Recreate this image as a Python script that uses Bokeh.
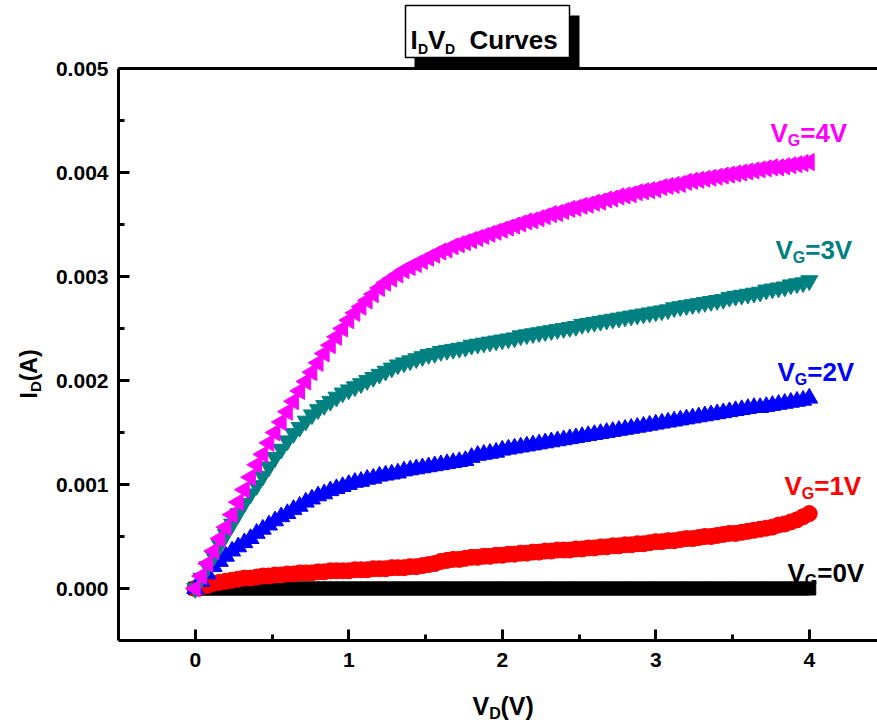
import math
from bokeh.plotting import figure
from bokeh.models import (FixedTicker, PrintfTickFormatter, LinearAxis, Label,
                          BoxAnnotation, Range1d)
from bokeh.embed import file_html
from bokeh.resources import INLINE

# ---------------- data ----------------
VD = [0.00, 0.04, 0.08, 0.12, 0.16, 0.20, 0.24, 0.28, 0.32, 0.36,
      0.40, 0.44, 0.48, 0.52, 0.56, 0.60, 0.64, 0.68, 0.72, 0.76,
      0.80, 0.84, 0.88, 0.92, 0.96, 1.00, 1.04, 1.08, 1.12, 1.16,
      1.20, 1.24, 1.28, 1.32, 1.36, 1.40, 1.44, 1.48, 1.52, 1.56,
      1.60, 1.64, 1.68, 1.72, 1.76, 1.80, 1.84, 1.88, 1.92, 1.96,
      2.00, 2.04, 2.08, 2.12, 2.16, 2.20, 2.24, 2.28, 2.32, 2.36,
      2.40, 2.44, 2.48, 2.52, 2.56, 2.60, 2.64, 2.68, 2.72, 2.76,
      2.80, 2.84, 2.88, 2.92, 2.96, 3.00, 3.04, 3.08, 3.12, 3.16,
      3.20, 3.24, 3.28, 3.32, 3.36, 3.40, 3.44, 3.48, 3.52, 3.56,
      3.60, 3.64, 3.68, 3.72, 3.76, 3.80, 3.84, 3.88, 3.92, 3.96,
      4.00]

# drain currents in mA
ID_VG0_mA = [0.00, 0.00, 0.00, 0.00, 0.00, 0.00, 0.00, 0.00, 0.00, 0.00,
             0.00, 0.00, 0.00, 0.00, 0.00, 0.00, 0.00, 0.00, 0.00, 0.00,
             0.00, 0.00, 0.00, 0.00, 0.00, 0.00, 0.00, 0.00, 0.00, 0.00,
             0.00, 0.00, 0.00, 0.00, 0.00, 0.00, 0.00, 0.00, 0.00, 0.00,
             0.00, 0.00, 0.00, 0.00, 0.00, 0.00, 0.00, 0.00, 0.00, 0.00,
             0.00, 0.00, 0.00, 0.00, 0.00, 0.00, 0.00, 0.00, 0.00, 0.00,
             0.00, 0.00, 0.00, 0.00, 0.00, 0.00, 0.00, 0.00, 0.00, 0.00,
             0.00, 0.00, 0.00, 0.00, 0.00, 0.00, 0.00, 0.00, 0.00, 0.00,
             0.00, 0.00, 0.00, 0.00, 0.00, 0.00, 0.00, 0.00, 0.00, 0.00,
             0.00, 0.00, 0.00, 0.00, 0.00, 0.00, 0.00, 0.00, 0.00, 0.00,
             0.00]

ID_VG1_mA = [0.00, 0.02, 0.03, 0.05, 0.06, 0.07, 0.08, 0.09, 0.10, 0.10,
             0.11, 0.12, 0.12, 0.13, 0.13, 0.14, 0.14, 0.15, 0.15, 0.15,
             0.16, 0.16, 0.17, 0.17, 0.17, 0.17, 0.18, 0.18, 0.18, 0.19,
             0.19, 0.19, 0.20, 0.20, 0.20, 0.21, 0.21, 0.22, 0.23, 0.24,
             0.26, 0.27, 0.28, 0.28, 0.29, 0.30, 0.30, 0.31, 0.31, 0.32,
             0.32, 0.33, 0.33, 0.34, 0.34, 0.35, 0.35, 0.36, 0.36, 0.37,
             0.37, 0.37, 0.38, 0.38, 0.39, 0.39, 0.40, 0.40, 0.41, 0.41,
             0.42, 0.42, 0.43, 0.43, 0.44, 0.45, 0.45, 0.46, 0.46, 0.47,
             0.48, 0.48, 0.49, 0.50, 0.50, 0.51, 0.52, 0.53, 0.53, 0.54,
             0.55, 0.56, 0.57, 0.58, 0.59, 0.61, 0.62, 0.64, 0.66, 0.69,
             0.72]

ID_VG2_mA = [0.00, 0.07, 0.14, 0.21, 0.26, 0.31, 0.36, 0.40, 0.44, 0.48,
             0.53, 0.57, 0.61, 0.65, 0.69, 0.72, 0.76, 0.79, 0.83, 0.86,
             0.89, 0.91, 0.94, 0.96, 0.98, 1.00, 1.02, 1.03, 1.05, 1.06,
             1.08, 1.09, 1.10, 1.11, 1.13, 1.14, 1.15, 1.16, 1.17, 1.18,
             1.19, 1.20, 1.21, 1.22, 1.23, 1.26, 1.28, 1.29, 1.30, 1.31,
             1.33, 1.34, 1.35, 1.36, 1.37, 1.38, 1.39, 1.40, 1.41, 1.42,
             1.43, 1.44, 1.45, 1.46, 1.47, 1.48, 1.49, 1.50, 1.51, 1.52,
             1.53, 1.54, 1.55, 1.56, 1.57, 1.58, 1.59, 1.60, 1.61, 1.62,
             1.63, 1.64, 1.65, 1.66, 1.67, 1.68, 1.69, 1.70, 1.71, 1.72,
             1.73, 1.74, 1.74, 1.75, 1.76, 1.77, 1.78, 1.79, 1.80, 1.81,
             1.83]

ID_VG3_mA = [0.00, 0.10, 0.21, 0.31, 0.42, 0.52, 0.62, 0.72, 0.82, 0.91,
             0.99, 1.08, 1.17, 1.26, 1.34, 1.42, 1.49, 1.55, 1.61, 1.67,
             1.72, 1.76, 1.80, 1.84, 1.88, 1.91, 1.94, 1.97, 2.00, 2.03,
             2.06, 2.09, 2.12, 2.15, 2.17, 2.19, 2.21, 2.23, 2.25, 2.26,
             2.28, 2.29, 2.30, 2.31, 2.32, 2.34, 2.35, 2.36, 2.37, 2.38,
             2.39, 2.40, 2.41, 2.43, 2.44, 2.45, 2.46, 2.47, 2.48, 2.49,
             2.50, 2.51, 2.52, 2.54, 2.55, 2.56, 2.57, 2.58, 2.59, 2.60,
             2.61, 2.62, 2.63, 2.64, 2.65, 2.66, 2.67, 2.68, 2.70, 2.71,
             2.72, 2.73, 2.74, 2.75, 2.76, 2.77, 2.78, 2.80, 2.81, 2.82,
             2.83, 2.84, 2.85, 2.87, 2.88, 2.89, 2.90, 2.92, 2.93, 2.94,
             2.96]

ID_VG4_mA = [0.00, 0.12, 0.24, 0.36, 0.48, 0.59, 0.71, 0.83, 0.95, 1.07,
             1.19, 1.29, 1.40, 1.50, 1.60, 1.70, 1.80, 1.90, 1.99, 2.08,
             2.17, 2.26, 2.34, 2.42, 2.50, 2.58, 2.65, 2.71, 2.77, 2.83,
             2.89, 2.94, 2.98, 3.02, 3.06, 3.09, 3.12, 3.15, 3.18, 3.21,
             3.24, 3.26, 3.29, 3.31, 3.33, 3.35, 3.37, 3.39, 3.41, 3.43,
             3.45, 3.47, 3.49, 3.51, 3.53, 3.54, 3.56, 3.58, 3.60, 3.61,
             3.63, 3.65, 3.66, 3.68, 3.69, 3.71, 3.72, 3.74, 3.75, 3.77,
             3.78, 3.79, 3.81, 3.82, 3.83, 3.84, 3.86, 3.87, 3.88, 3.89,
             3.91, 3.92, 3.93, 3.94, 3.95, 3.96, 3.97, 3.98, 3.99, 4.00,
             4.01, 4.02, 4.03, 4.04, 4.05, 4.05, 4.06, 4.07, 4.08, 4.09,
             4.10]

X_TICKS = [0, 1, 2, 3, 4]
X_MINOR = [0.5, 1.5, 2.5, 3.5]
Y_TICKS = [0.000, 0.001, 0.002, 0.003, 0.004, 0.005]
Y_MINOR = [0.0005, 0.0015, 0.0025, 0.0035, 0.0045]

# ---------------- figure ----------------
# The plot frame covers the whole canvas; the axes are drawn at fixed data
# locations so that titles and the title box can live inside the frame.
W, H = 877, 727
FL, FB = 118, 640               # pixel position of the axes box (left, bottom)
X0, PXV = -0.5, 153.5           # x at the left axis, pixels per volt
Y0, Y1 = -0.0005, 0.005         # y at bottom axis / top line
PXA = 104000.0                  # pixels per ampere

FONT = "Liberation Sans"


def dx(px):
    return X0 + (px - FL) / PXV


def dy(py):
    return Y0 + (FB - py) / PXA


XR = (X0, dx(W))
p = figure(width=W, height=H, output_backend="svg", toolbar_location=None,
           x_range=Range1d(dx(0), dx(W)), y_range=Range1d(dy(H), dy(0)),
           x_axis_location=None, y_axis_location=None,
           min_border=0, min_border_left=0, min_border_right=0,
           min_border_top=0, min_border_bottom=0)
p.outline_line_color = None
p.grid.visible = False
p.background_fill_color = "white"
p.border_fill_color = "white"


def A(vals):
    return [v * 1e-3 for v in vals]


# series
p.scatter(VD, A(ID_VG0_mA), marker="square", size=13, color="black")
p.scatter(VD, A(ID_VG1_mA), marker="circle", size=16, color="#FF0000")
p.scatter(VD, A(ID_VG2_mA), marker="triangle", size=17, color="#0000FF")
p.scatter(VD, A(ID_VG3_mA), marker="inverted_triangle", size=17, color="#008080")
p.scatter(VD, A(ID_VG4_mA), marker="triangle", size=17, angle=math.pi / 2,
          color="#FF00FF")


def style_axis(ax):
    ax.axis_line_width = 3
    ax.major_tick_line_width = 3
    ax.minor_tick_line_width = 3
    ax.major_tick_in = 11
    ax.major_tick_out = 0
    ax.minor_tick_in = 6
    ax.minor_tick_out = 0
    ax.major_label_text_font = FONT
    ax.major_label_text_font_style = "bold"
    ax.major_label_text_font_size = "21px"
    ax.major_label_text_color = "black"


xax = LinearAxis(fixed_location=Y0, bounds=XR,
                 ticker=FixedTicker(ticks=X_TICKS, minor_ticks=X_MINOR))
style_axis(xax)
xax.major_label_standoff = 12
p.add_layout(xax, "below")

yax = LinearAxis(fixed_location=X0, bounds=(Y0, Y1),
                 ticker=FixedTicker(ticks=Y_TICKS, minor_ticks=Y_MINOR),
                 formatter=PrintfTickFormatter(format="%.3f"))
style_axis(yax)
yax.major_label_standoff = 10
p.add_layout(yax, "left")

top_ax = LinearAxis(fixed_location=Y1, bounds=XR,
                    ticker=FixedTicker(ticks=[]), axis_line_width=3,
                    major_tick_in=0, major_tick_out=0, minor_tick_in=0,
                    minor_tick_out=0, major_label_text_font_size="0px")
p.add_layout(top_ax, "above")


def lab(px, py, text, size, color="black", angle=0.0):
    p.add_layout(Label(x=dx(px), y=dy(py), text=text, text_font=FONT,
                       text_font_style="bold", text_font_size=f"{size}px",
                       text_color=color, text_baseline="alphabetic",
                       text_align="left", angle=angle))


# title box with shadow
p.add_layout(BoxAnnotation(left=dx(414), right=dx(579), top=dy(15), bottom=dy(68),
                           fill_color="black", fill_alpha=1.0, line_color=None))
p.add_layout(BoxAnnotation(left=dx(405), right=dx(569), top=dy(5), bottom=dy(57),
                           fill_color="white", fill_alpha=1.0, line_color="black",
                           line_width=1.5, line_alpha=1.0))
lab(410, 39, "I", 26)
lab(417.5, 48, "D", 14)
lab(427.5, 39, "V", 26)
lab(444.5, 48, "D", 14)
lab(469, 39, "Curves", 26)

# axis titles
lab(472, 705, "V", 25)
lab(488.7, 713, "D", 16)
lab(500, 705, "(V)", 25)

lab(28, 398, "I", 23, angle=math.pi / 2)
lab(35, 391.6, "D", 15, angle=math.pi / 2)
lab(28, 380.8, "(A)", 23, angle=math.pi / 2)

# curve labels V_G = ...
CURVE_LABELS = [("0V", "black"), ("1V", "#FF0000"), ("2V", "#0000FF"),
                ("3V", "#008080"), ("4V", "#FF00FF")]
label_pos = [(787, 572), (784, 485), (777, 371), (775, 249), (770, 132)]
for (txt, col), (lx, ly) in zip(CURVE_LABELS, label_pos):
    lab(lx, ly, "V", 26, col)
    lab(lx + 17.3, ly + 8, "G", 16, col)
    lab(lx + 29.7, ly, "=" + txt, 26, col)

open("out.html", "w").write(file_html(p, INLINE))
